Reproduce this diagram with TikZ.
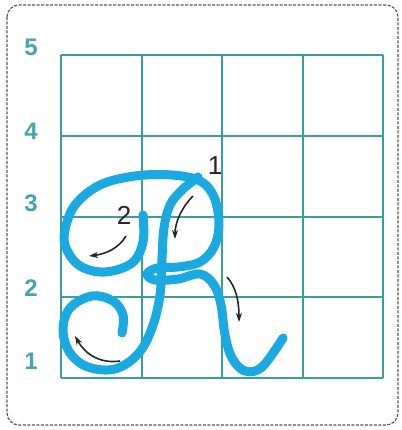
\documentclass[tikz,border=0pt]{standalone}
\usepackage{fontspec}
\setmainfont{Liberation Sans}
\usetikzlibrary{arrows.meta}
\definecolor{gridc}{HTML}{3A9E9E}
\definecolor{numc}{HTML}{4AA3AC}
\definecolor{inkc}{HTML}{1BA9E1}
\tikzset{
  gridline/.style={draw=gridc,line width=1.8pt},
  ink/.style={draw=inkc,line width=9pt,line cap=round,line join=round},
  hint/.style={draw=black!85,line width=1.6pt,-{Stealth[length=9pt,width=6pt]}},
  rownum/.style={text=numc,font=\fontsize{24}{24}\selectfont\bfseries},
  stepnum/.style={text=black!85,font=\fontsize{26}{26}\selectfont}
}
\begin{document}
\begin{tikzpicture}[x=1pt,y=-1pt]
\useasboundingbox (0,0) rectangle (401,430);
\fill[white] (0,0) rectangle (401,430);
\draw[black!65,line width=1.2pt,dash pattern=on 3pt off 1.5pt,rounded corners=12pt] (7,5) rectangle (398,425);
% grid
\foreach \x in {61,142,222,303,383} \draw[gridline] (\x,55) -- (\x,378);
\foreach \y in {55,136,217,297,378} \draw[gridline] (61,\y) -- (383,\y);
% row numbers
\node[rownum] (n5) at (31,47) {5};
\node[rownum] (n4) at (31,131) {4};
\node[rownum] (n3) at (31,203) {3};
\node[rownum] (n2) at (31,288) {2};
\node[rownum] (n1) at (31,361) {1};
% stroke 1: stem and lower loop
\draw[ink] plot[smooth,tension=0.6] coordinates {(198,177) (182,190) (170,205) (164,228) (162,258) (160,295) (152,328) (138,354) (115,369) (88,367) (70,353) (63,330) (70,308) (92,296) (113,301) (123,315) (122,333)};
% stroke 2: upper loop, bowl, little loop, leg
\draw[ink] plot[smooth,tension=0.6] coordinates {(143,215) (143,242) (132,263) (105,272) (80,266) (66,248) (65,230) (75,205) (100,185) (135,176) (172,175) (200,181) (214,197) (219,224) (214,247) (200,262) (178,267) (157,268) (147,274) (155,280) (178,279) (200,274) (214,285) (221,305) (225,335) (232,358) (245,371) (262,367) (283,338)};
% arrows
\draw[hint] (193,196) .. controls (182,207) and (175,222) .. (175,239);
\draw[hint] (126,236) .. controls (119,248) and (106,254) .. (89,256);
\draw[hint] (227,277) .. controls (236,287) and (239,301) .. (239,322);
\draw[hint] (120,361) .. controls (100,364) and (85,354) .. (75,336);
% step numbers
\node[stepnum] (s1) at (215,166) {1};
\node[stepnum] (s2) at (124,215) {2};
\end{tikzpicture}
\end{document}
